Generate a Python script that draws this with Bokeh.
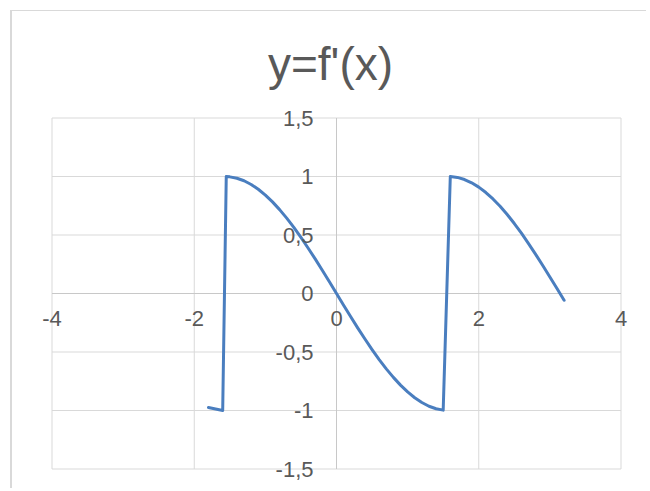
from bokeh.plotting import figure
from bokeh.models import Range1d
from bokeh.core.properties import value
from bokeh.embed import file_html
from bokeh.resources import INLINE

# ---- data ----
x_vals = [-1.8, -1.6, -1.55, -1.5, -1.4, -1.3, -1.2, -1.1, -1.0, -0.9, -0.8, -0.7,
          -0.6, -0.5, -0.4, -0.3, -0.2, -0.1, 0.0, 0.1, 0.2, 0.3, 0.4, 0.5, 0.6,
          0.7, 0.8, 0.9, 1.0, 1.1, 1.2, 1.3, 1.4, 1.5, 1.6, 1.7, 1.8, 1.9, 2.0,
          2.1, 2.2, 2.3, 2.4, 2.5, 2.6, 2.7, 2.8, 2.9, 3.0, 3.1, 3.2]
y_vals = [-0.974, -1.000, 1.000, 0.997, 0.985, 0.964, 0.932, 0.891, 0.841, 0.783, 0.717, 0.644,
          0.565, 0.479, 0.389, 0.296, 0.199, 0.100, 0.000, -0.100, -0.199, -0.296, -0.389, -0.479,
          -0.565, -0.644, -0.717, -0.783, -0.841, -0.891, -0.932, -0.964, -0.985, -0.997,
          1.000, 0.992, 0.974, 0.946, 0.909, 0.863, 0.808, 0.746, 0.675, 0.598, 0.516, 0.427,
          0.335, 0.239, 0.141, 0.042, -0.058]

x_ticks = [-4, -2, 0, 2, 4]
x_tick_labels = ["-4", "-2", "0", "2", "4"]
y_ticks = [-1.5, -1.0, -0.5, 0.0, 0.5, 1.0, 1.5]
y_tick_labels = ["-1,5", "-1", "-0,5", "0", "0,5", "1", "1,5"]

title_text = "y=f'(x)"

TEXT_COLOR = "#595959"
GRID_COLOR = "#d9d9d9"
AXIS_COLOR = "#c8c8c8"
LINE_COLOR = "#4a7ebf"
FONT = "Liberation Sans"

# ---- layout (pixels) ----
W, H = 636, 478
TOP = 89                   # space for the title above the plotting frame
PX_X, PX_Y = 71.125, 117.0 # pixels per data unit
LEFT_PAD = 39.5            # px from frame left to first x tick
TOP_PAD = 17.5             # px from frame top to last y tick

x_start = x_ticks[0] - LEFT_PAD / PX_X
x_end = x_start + W / PX_X
y_end = y_ticks[-1] + TOP_PAD / PX_Y
y_start = y_end - (H - TOP) / PX_Y

p = figure(width=W, height=H, output_backend="svg", toolbar_location=None,
           x_range=Range1d(x_start, x_end), y_range=Range1d(y_start, y_end),
           min_border_left=0, min_border_right=0, min_border_top=TOP, min_border_bottom=0,
           title=title_text,
           styles={"margin-left": "10px", "margin-top": "10px",
                   "border-left": "2px solid #d9d9d9", "border-top": "1px solid #d9d9d9"})

p.title.align = "center"
p.title.text_font = FONT
p.title.text_font_size = "46px"
p.title.text_font_style = "normal"
p.title.text_color = TEXT_COLOR
p.title.standoff = 22

p.xaxis.visible = False
p.yaxis.visible = False
p.grid.visible = False
p.outline_line_color = None
p.background_fill_color = "white"
p.border_fill_color = "white"

# gridlines spanning exactly the tick extents
p.segment(x0=x_ticks, y0=[y_ticks[0]] * len(x_ticks), x1=x_ticks, y1=[y_ticks[-1]] * len(x_ticks),
          line_color=GRID_COLOR, line_width=1)
p.segment(x0=[x_ticks[0]] * len(y_ticks), y0=y_ticks, x1=[x_ticks[-1]] * len(y_ticks), y1=y_ticks,
          line_color=GRID_COLOR, line_width=1)
# axis lines through the origin
p.segment(x0=[x_ticks[0], 0], y0=[0, y_ticks[0]], x1=[x_ticks[-1], 0], y1=[0, y_ticks[-1]],
          line_color=AXIS_COLOR, line_width=1)

p.line(x_vals, y_vals, line_color=LINE_COLOR, line_width=3, line_join="round", line_cap="round")

# tick labels next to the axes
p.text(x=x_ticks, y=[0] * len(x_ticks), text=x_tick_labels, y_offset=17,
       text_align="center", text_baseline="top",
       text_font=value(FONT), text_font_size="22px", text_color=TEXT_COLOR)
p.text(x=[0] * len(y_ticks), y=y_ticks, text=y_tick_labels, x_offset=-23,
       text_align="right", text_baseline="middle",
       text_font=value(FONT), text_font_size="22px", text_color=TEXT_COLOR)

open("out.html", "w").write(file_html(p, INLINE))
